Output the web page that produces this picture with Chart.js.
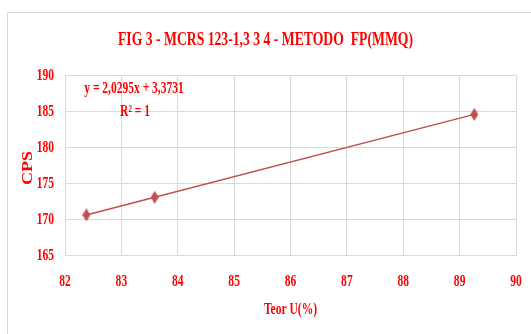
<!DOCTYPE html>
<html>
<head>
<meta charset="utf-8">
<title>FIG 3 - MCRS 123-1,3 3 4 - METODO FP(MMQ)</title>
<script src="https://cdn.jsdelivr.net/npm/chart.js@4.4.1/dist/chart.umd.min.js"></script>
<style>
  html, body { margin: 0; padding: 0; background: #ffffff; }
  #wrap { position: relative; width: 531px; height: 334px; }
</style>
</head>
<body>
<div id="wrap"><canvas id="chart" width="531" height="334"></canvas></div>
<script>
// Calibration points: theoretical U content (%) against measured counts
const teorU = [82.38, 83.59, 89.26];
const cps = [170.56, 173.02, 184.53];

// Axis ranges and tick steps
const xTicks = [82, 83, 84, 85, 86, 87, 88, 89, 90];
const yTicks = [165, 170, 175, 180, 185, 190];

// Texts
const titleText = 'FIG 3 - MCRS 123-1,3 3 4 - METODO  FP(MMQ)';
const xTitle = 'Teor U(%)';
const yTitle = 'CPS';
const eqText = 'y = 2,0295x + 3,3731';
const r2Text = 'R² = 1';

const RED = '#ff0000';
const LINE = '#c0504d';
const GRID = '#d9d9d9';
const FONT = '"Liberation Serif", "Times New Roman", serif';

// Tall diamond marker
function diamond(w, h, color) {
  const c = document.createElement('canvas');
  c.width = w; c.height = h;
  const g = c.getContext('2d');
  g.fillStyle = color;
  g.beginPath();
  g.moveTo(w / 2, 0);
  g.lineTo(w, h / 2);
  g.lineTo(w / 2, h);
  g.lineTo(0, h / 2);
  g.closePath();
  g.fill();
  return c;
}

// Narrow bold serif text, squeezed horizontally
function narrowText(ctx, text, x, y, size, sx, align, rot) {
  ctx.save();
  ctx.font = 'bold ' + size + 'px ' + FONT;
  ctx.fillStyle = RED;
  ctx.textBaseline = 'middle';
  ctx.textAlign = align || 'center';
  ctx.translate(x, y);
  if (rot) ctx.rotate(rot);
  ctx.scale(sx, 1);
  ctx.fillText(text, 0, 0);
  ctx.restore();
}

const textPlugin = {
  id: 'narrowLabels',
  beforeDraw(chart) {
    const ctx = chart.ctx;
    ctx.save();
    ctx.fillStyle = '#ffffff';
    ctx.fillRect(0, 0, chart.width, chart.height);
    ctx.strokeStyle = GRID;
    ctx.lineWidth = 1;
    ctx.strokeRect(7.5, 12.5, chart.width + 10, chart.height + 10);
    ctx.restore();
  },
  afterDraw(chart) {
    const ctx = chart.ctx;
    const xs = chart.scales.x, ys = chart.scales.y;
    const area = chart.chartArea;
    // title
    narrowText(ctx, titleText, chart.width / 2, 40, 18, 0.76, 'center');
    // y tick labels
    ys.ticks.forEach(t => {
      narrowText(ctx, String(t.value), area.left - 11, ys.getPixelForValue(t.value) + 1, 16, 0.72, 'right');
    });
    // x tick labels
    xs.ticks.forEach(t => {
      narrowText(ctx, String(t.value), xs.getPixelForValue(t.value), 282, 16, 0.72, 'center');
    });
    // axis titles
    narrowText(ctx, xTitle, (area.left + area.right) / 2, 310, 16, 0.72, 'center');
    narrowText(ctx, yTitle, 28, 168, 15, 1.2, 'center', -Math.PI / 2);
    // trendline label
    narrowText(ctx, eqText, 134, 89, 16, 0.72, 'center');
    narrowText(ctx, r2Text, 135, 112, 16, 0.72, 'center');
  }
};

new Chart(document.getElementById('chart'), {
  type: 'scatter',
  data: {
    datasets: [{
      data: teorU.map((x, i) => ({ x: x, y: cps[i] })),
      showLine: true,
      borderColor: LINE,
      borderWidth: 1.5,
      pointStyle: diamond(8, 13, LINE),
      pointRadius: 6,
      pointHoverRadius: 6
    }]
  },
  options: {
    responsive: false,
    animation: false,
    devicePixelRatio: 1,
    layout: { padding: { left: 0, right: 15, top: 75, bottom: 0 } },
    plugins: {
      legend: { display: false },
      title: { display: false },
      tooltip: { enabled: false }
    },
    scales: {
      x: {
        type: 'linear',
        min: xTicks[0],
        max: xTicks[xTicks.length - 1],
        afterBuildTicks: s => { s.ticks = xTicks.map(v => ({ value: v })); },
        afterFit: s => { s.height = 79; },
        ticks: { display: false },
        grid: { color: GRID, lineWidth: 1, drawTicks: false },
        border: { color: GRID }
      },
      y: {
        type: 'linear',
        min: yTicks[0],
        max: yTicks[yTicks.length - 1],
        afterBuildTicks: s => { s.ticks = yTicks.map(v => ({ value: v })); },
        afterFit: s => { s.width = 65; },
        ticks: { display: false },
        grid: { color: GRID, lineWidth: 1, drawTicks: false },
        border: { color: GRID }
      }
    }
  },
  plugins: [textPlugin]
});
</script>
</body>
</html>
